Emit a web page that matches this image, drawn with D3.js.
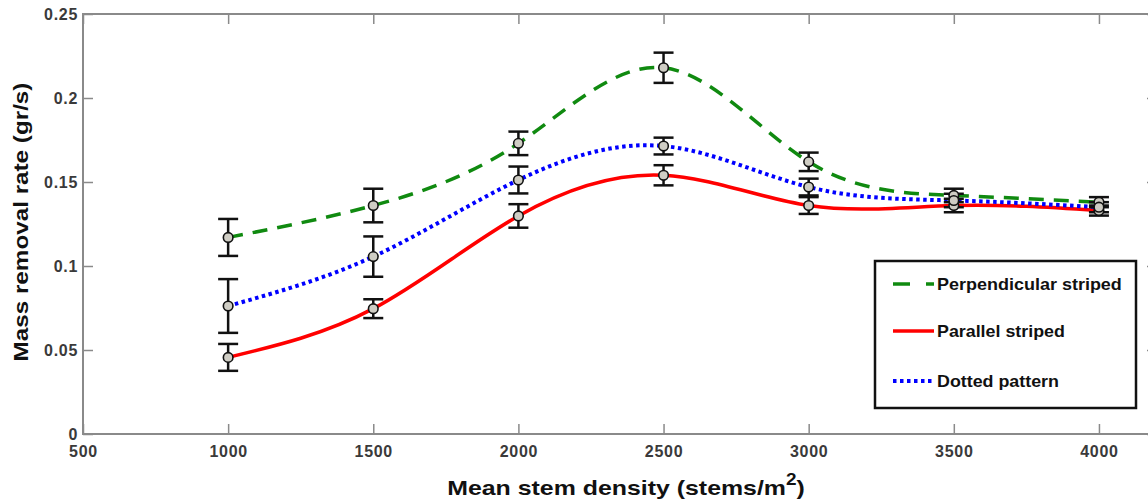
<!DOCTYPE html>
<html>
<head>
<meta charset="utf-8">
<script src="https://cdn.jsdelivr.net/npm/d3@7"></script>
<style>
  html, body { margin: 0; padding: 0; background: #fff; }
  svg { display: block; font-family: "Liberation Sans", Arial, sans-serif; }
</style>
</head>
<body>
<svg id="chart" width="1148" height="502"></svg>
<script>
// Stem densities (stems/m^2)
const density = [1000, 1500, 2000, 2500, 3000, 3500, 4000];

// Mean mass removal rate (gr/s) and error half-widths per pattern
const perpendicular    = [0.117, 0.136, 0.173, 0.218, 0.162, 0.142, 0.138];
const perpendicularErr = [0.011, 0.010, 0.007, 0.009, 0.0055, 0.004, 0.003];
const parallel         = [0.0456, 0.0746, 0.1298, 0.154, 0.136, 0.136, 0.133];
const parallelErr      = [0.008, 0.0056, 0.007, 0.006, 0.005, 0.004, 0.003];
const dotted           = [0.0762, 0.1056, 0.1512, 0.1714, 0.147, 0.139, 0.135];
const dottedErr        = [0.016, 0.012, 0.008, 0.005, 0.005, 0.004, 0.003];

const xTicks = [500, 1000, 1500, 2000, 2500, 3000, 3500, 4000];
const yTicks = [0, 0.05, 0.1, 0.15, 0.2, 0.25];
const yTickLabels = ["0", "0.05", "0.1", "0.15", "0.2", "0.25"];

const seriesNames = ["Perpendicular striped", "Parallel striped", "Dotted pattern"];

const svg = d3.select("#chart");

const x = d3.scaleLinear().domain([500, 4200]).range([83, 1157]);
const y = d3.scaleLinear().domain([0, 0.25]).range([434, 14]);

const axisColor = "#8a8a8a";
const labelColor = "#3a3a3a";

// Stretch a text element horizontally about a pivot so it spans a given width
function fitWidth(sel, width, pivotX) {
  const w = sel.node().getBBox().width;
  const s = width / w;
  sel.attr("transform", `translate(${pivotX},0) scale(${s},1) translate(${-pivotX},0)`);
}

// Plot box (frame)
svg.append("rect")
  .attr("x", x(500)).attr("y", y(0.25))
  .attr("width", x(4200) - x(500)).attr("height", y(0) - y(0.25))
  .attr("fill", "none").attr("stroke", axisColor).attr("stroke-width", 2);

// Bottom axis with inward ticks
const xAxis = svg.append("g").attr("transform", `translate(0,${y(0)})`)
  .call(d3.axisBottom(x).tickValues(xTicks).tickSizeInner(-10).tickSizeOuter(0).tickPadding(12).tickFormat(d3.format("d")));
xAxis.select(".domain").remove();
xAxis.selectAll(".tick line").attr("stroke", axisColor).attr("stroke-width", 1.5);
xAxis.selectAll(".tick text").attr("fill", labelColor).attr("font-size", 16).attr("font-weight", "bold")
  .attr("letter-spacing", 0.7);

// Top mirrored ticks
const xTop = svg.append("g").attr("transform", `translate(0,${y(0.25)})`)
  .call(d3.axisTop(x).tickValues(xTicks).tickSizeInner(-10).tickSizeOuter(0).tickFormat(""));
xTop.select(".domain").remove();
xTop.selectAll(".tick line").attr("stroke", axisColor).attr("stroke-width", 1.5);

// Left axis with inward ticks
const yAxis = svg.append("g").attr("transform", `translate(${x(500)},0)`)
  .call(d3.axisLeft(y).tickValues(yTicks).tickSizeInner(-10).tickSizeOuter(0).tickPadding(5)
    .tickFormat((d, i) => yTickLabels[i]));
yAxis.select(".domain").remove();
yAxis.selectAll(".tick line").attr("stroke", axisColor).attr("stroke-width", 1.5);
yAxis.selectAll(".tick text").attr("fill", labelColor).attr("font-size", 16).attr("font-weight", "bold")
  .attr("letter-spacing", 0.7);

// Right mirrored ticks
const yRight = svg.append("g").attr("transform", `translate(${x(4200)},0)`)
  .call(d3.axisRight(y).tickValues(yTicks).tickSizeInner(-10).tickSizeOuter(0).tickFormat(""));
yRight.select(".domain").remove();
yRight.selectAll(".tick line").attr("stroke", axisColor).attr("stroke-width", 1.5);

// Axis titles
const yTitleG = svg.append("g").attr("transform", "translate(28,222) rotate(-90)");
const yTitle = yTitleG.append("text")
  .attr("x", 0).attr("y", 0)
  .attr("text-anchor", "middle").attr("font-size", 21).attr("font-weight", "bold").attr("fill", "#111")
  .text("Mass removal rate (gr/s)");
fitWidth(yTitle, 279, 0);

const xt = svg.append("text")
  .attr("x", 626).attr("y", 495)
  .attr("text-anchor", "middle").attr("font-size", 21).attr("font-weight", "bold").attr("fill", "#111");
xt.append("tspan").text("Mean stem density (stems/m");
xt.append("tspan").attr("dy", -10).attr("font-size", 16).text("2");
xt.append("tspan").attr("dy", 10).text(")");
fitWidth(xt, 358, 626);

// Fitted curves
const series = [
  { name: seriesNames[0], values: perpendicular, err: perpendicularErr, color: "#108a10", dash: "15,10", width: 3.5 },
  { name: seriesNames[1], values: parallel, err: parallelErr, color: "#ff0000", dash: null, width: 3.5 },
  { name: seriesNames[2], values: dotted, err: dottedErr, color: "#0000ff", dash: "3.5,3.5", width: 4 }
];

const line = d3.line()
  .x(d => x(d[0])).y(d => y(d[1]))
  .curve(d3.curveNatural);

const plot = svg.append("g");
series.forEach(s => {
  plot.append("path")
    .datum(density.map((d, i) => [d, s.values[i]]))
    .attr("d", line)
    .attr("fill", "none")
    .attr("stroke", s.color)
    .attr("stroke-width", s.width)
    .attr("stroke-dasharray", s.dash);
});

// Error bars with caps and marker circles
const capHalf = 10;
series.forEach(s => {
  const g = plot.append("g");
  density.forEach((d, i) => {
    const cx = x(d), top = y(s.values[i] + s.err[i]), bot = y(s.values[i] - s.err[i]);
    g.append("line").attr("x1", cx).attr("x2", cx).attr("y1", top).attr("y2", bot)
      .attr("stroke", "#111").attr("stroke-width", 2.5);
    [top, bot].forEach(yy => g.append("line")
      .attr("x1", cx - capHalf).attr("x2", cx + capHalf).attr("y1", yy).attr("y2", yy)
      .attr("stroke", "#111").attr("stroke-width", 2.5));
  });
});
series.forEach(s => {
  density.forEach((d, i) => {
    plot.append("circle").attr("cx", x(d)).attr("cy", y(s.values[i])).attr("r", 4.8)
      .attr("fill", "#cfcdc4").attr("stroke", "#111").attr("stroke-width", 1.6);
  });
});

// Legend
const legend = svg.append("g");
legend.append("rect").attr("x", 875).attr("y", 261).attr("width", 261).attr("height", 147)
  .attr("fill", "#fff").attr("stroke", "#111").attr("stroke-width", 2.5);
const legendY = [284, 331, 381];
const legendWidths = [185, 128, 122];
const legendDash = ["17,16", null, "3.5,3.5"];
series.forEach((s, i) => {
  legend.append("line")
    .attr("x1", 893).attr("x2", 934).attr("y1", legendY[i]).attr("y2", legendY[i])
    .attr("stroke", s.color).attr("stroke-width", s.width)
    .attr("stroke-dasharray", legendDash[i]);
  const t = legend.append("text").attr("x", 937).attr("y", legendY[i] + 6)
    .attr("font-size", 16.5).attr("font-weight", "bold").attr("fill", "#111")
    .text(s.name);
  fitWidth(t, legendWidths[i], 937);
});
</script>
</body>
</html>
